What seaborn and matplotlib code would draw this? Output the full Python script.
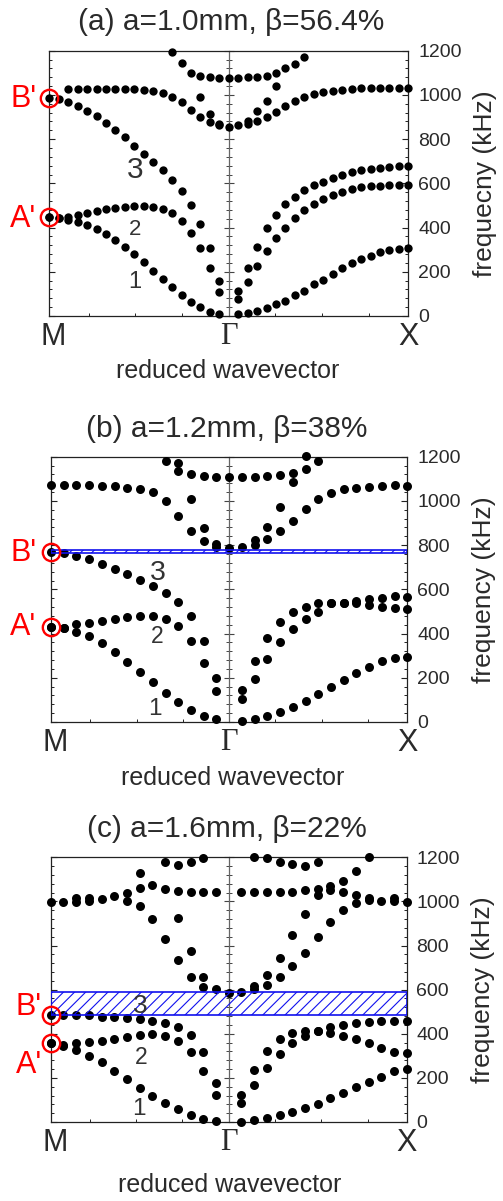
import numpy as np
import pandas as pd
import matplotlib
matplotlib.use("Agg")
import matplotlib.pyplot as plt
import matplotlib.transforms as mtransforms
from matplotlib.ticker import MultipleLocator, FixedLocator
import seaborn as sns

sns.set_style("ticks")
plt.rcParams['font.family'] = ['Liberation Sans', 'DejaVu Sans']
plt.rcParams['hatch.linewidth'] = 0.8

# ---------------- data ----------------
# k index along the path M -> Gamma -> X (Gamma at k = steps, X at k = 2*steps)
xtick_labels = ['M', 'Γ', 'X']
ytick_values = [0, 200, 400, 600, 800, 1000, 1200]

# Panel (a)
a_title = '(a) a=1.0mm, β=56.4%'
a_ylabel = 'frequecny (kHz)'
a_steps = 19
a_b1_k = list(range(0, 19)) + list(range(20, 39))
a_b1_f = [448, 445, 436, 426, 412, 395, 370, 345, 312, 280, 244, 205, 167, 133, 95, 65, 39, 20, 8,
          8, 15, 24, 35, 53, 68, 95, 115, 143, 163, 188, 216, 238, 258, 273, 288, 300, 303, 306]
a_b2_k = list(range(0, 19)) + list(range(20, 39))
a_b2_f = [448, 445, 449, 457, 464, 473, 482, 488, 494, 499, 499, 494, 484, 467, 431, 374, 306, 216, 110,
          77, 155, 228, 294, 351, 400, 445, 481, 508, 529, 547, 562, 574, 582, 586, 589, 591, 592, 592]
a_b3_k = list(range(0, 19)) + list(range(20, 39))
a_b3_f = [984, 980, 966, 950, 929, 905, 874, 841, 808, 770, 733, 695, 660, 615, 565, 502, 415, 306, 158,
          113, 219, 314, 396, 456, 505, 540, 570, 592, 608, 626, 638, 650, 659, 665, 671, 674, 677, 680]
a_b4_k = list(range(2, 39))
a_b4_f = [1027, 1027, 1027, 1027, 1027, 1027, 1025, 1025, 1021, 1018, 1007, 992, 966, 932, 901, 876, 862, 856,
          862, 870, 882, 901, 924, 950, 972, 992, 1004, 1012, 1018, 1022, 1027, 1030, 1030, 1030, 1030, 1030, 1030]
a_b5_k = [16, 17, 18, 21, 22, 23, 24]
a_b5_f = [992, 912, 868, 884, 925, 972, 1042]
a_b6_k = list(range(13, 28))
a_b6_f = [1195, 1143, 1100, 1087, 1079, 1075, 1075, 1075, 1079, 1081, 1085, 1097, 1123, 1140, 1173]
a_Bp, a_Ap = 984, 448
a_gap = None

# Panel (b)
b_title = '(b) a=1.2mm, β=38%'
b_ylabel = 'frequency (kHz)'
b_steps = 14
b_b1_k = list(range(0, 14)) + list(range(15, 29))
b_b1_f = [431, 424, 409, 389, 359, 318, 273, 228, 179, 130, 89, 54, 27, 12,
          6, 14, 29, 45, 69, 96, 125, 157, 190, 220, 250, 274, 291, 295]
b_b2_k = list(range(0, 14)) + list(range(15, 29))
b_b2_f = [431, 424, 442, 446, 455, 464, 473, 481, 481, 466, 434, 368, 268, 142,
          103, 196, 283, 360, 419, 464, 497, 540, 540, 537, 528, 522, 517, 511]
b_b3_k = list(range(0, 14)) + list(range(15, 29))
b_b3_f = [770, 763, 751, 736, 715, 693, 668, 642, 615, 582, 541, 479, 368, 200,
          145, 276, 378, 454, 497, 522, 537, 540, 540, 549, 556, 562, 570, 567]
b_b4_k = list(range(0, 29))
b_b4_f = [1072, 1072, 1072, 1072, 1067, 1067, 1060, 1052, 1040, 999, 933, 864, 819, 793, 785,
          793, 800, 826, 864, 910, 963, 1007, 1037, 1052, 1060, 1064, 1067, 1070, 1067]
b_b5_k = [11, 12, 13, 16, 17, 18, 19]
b_b5_f = [1007, 876, 803, 823, 883, 974, 1085]
b_b6_k = list(range(9, 22))
b_b6_f = [1182, 1137, 1120, 1112, 1109, 1106, 1109, 1109, 1112, 1118, 1128, 1144, 1180]
b_b7_k = [10, 20]
b_b7_f = [1173, 1204]
b_Bp, b_Ap = 770, 431
b_gap = (765, 780)

# Panel (c)
c_title = '(c) a=1.6mm, β=22%'
c_ylabel = 'frequency (kHz)'
c_steps = 14
c_b1_k = list(range(0, 14)) + list(range(15, 29))
c_b1_f = [357, 345, 326, 301, 271, 233, 193, 156, 118, 85, 57, 32, 15, 6,
          2, 9, 20, 30, 44, 62, 82, 107, 130, 157, 183, 206, 230, 240]
c_b2_k = list(range(0, 14)) + list(range(15, 29))
c_b2_f = [357, 350, 357, 361, 369, 376, 387, 394, 397, 391, 367, 316, 233, 122,
          85, 168, 243, 308, 357, 390, 413, 402, 390, 375, 357, 337, 319, 311]
c_b3_k = list(range(0, 14)) + list(range(15, 29))
c_b3_f = [485, 485, 483, 483, 478, 474, 470, 465, 459, 450, 432, 394, 316, 175,
          122, 236, 323, 376, 402, 413, 413, 432, 440, 450, 453, 458, 458, 459]
c_upM_k = [0, 1, 2, 2, 3, 3, 4, 5, 6, 6, 7, 7, 7, 8, 8, 9, 9, 9, 10, 10, 10, 10,
           11, 11, 11, 11, 12, 12, 12, 12, 13, 13, 14]
c_upM_f = [999, 999, 1017, 998, 1017, 1000, 1011, 1025, 1040, 1003, 1127, 1059, 981, 1074, 919,
           1180, 1055, 828, 1165, 1047, 926, 733, 1180, 1044, 777, 659, 1197, 1044, 659, 612,
           1041, 601, 587]
c_upX_k = [15, 15, 16, 16, 16, 16, 17, 17, 17, 17, 18, 18, 18, 18, 19, 19, 19, 19,
           20, 20, 20, 20, 21, 21, 21, 21, 22, 22, 22, 23, 23, 23, 24, 24, 24, 25, 25, 25,
           26, 27, 27, 28]
c_upX_f = [1044, 591, 1203, 1044, 617, 604, 1195, 1044, 666, 623, 1180, 1044, 745, 659,
           1169, 1044, 846, 707, 1160, 1050, 945, 768, 1180, 1057, 1027, 837,
           1068, 1053, 905, 1092, 1041, 961, 1139, 1029, 992, 1200, 1016, 1006,
           1004, 1015, 1000, 997]
c_Bp, c_Ap = 485, 357
c_gap = (487, 588)

panels = [
    dict(title=a_title, ylabel=a_ylabel, steps=a_steps,
         bands=[(a_b1_k, a_b1_f), (a_b2_k, a_b2_f), (a_b3_k, a_b3_f), (a_b4_k, a_b4_f),
                (a_b5_k, a_b5_f), (a_b6_k, a_b6_f)],
         Bp=a_Bp, Ap=a_Ap, gap=a_gap, s=36,
         rect_px=(49.3, 50.7, 408.3, 316.0),
         title_px=(231.5, 30.0), xlabel_px=(227.5, 370.7),
         Blab=(-0.141, 945), Alab=(-0.144, 403),
         nums=[('3', 0.477, 623, 21.5), ('2', 0.477, 366, 16), ('1', 0.477, 125, 17)]),
    dict(title=b_title, ylabel=b_ylabel, steps=b_steps,
         bands=[(b_b1_k, b_b1_f), (b_b2_k, b_b2_f), (b_b3_k, b_b3_f), (b_b4_k, b_b4_f),
                (b_b5_k, b_b5_f), (b_b6_k, b_b6_f), (b_b7_k, b_b7_f)],
         Bp=b_Bp, Ap=b_Ap, gap=b_gap, s=42,
         rect_px=(51.0, 456.7, 407.3, 722.0),
         title_px=(226.7, 436.7), xlabel_px=(233.0, 778.0),
         Blab=(-0.156, 730), Alab=(-0.156, 394),
         nums=[('3', 0.597, 642, 20.5), ('2', 0.597, 356, 16.5), ('1', 0.584, 32, 17.5)]),
    dict(title=c_title, ylabel=c_ylabel, steps=c_steps,
         bands=[(c_b1_k, c_b1_f), (c_b2_k, c_b2_f), (c_b3_k, c_b3_f),
                (c_upM_k, c_upM_f), (c_upX_k, c_upX_f)],
         Bp=c_Bp, Ap=c_Ap, gap=c_gap, s=42,
         rect_px=(50.7, 857.3, 406.7, 1122.0),
         title_px=(226.7, 837.0), xlabel_px=(230.0, 1185.0),
         Blab=(-0.124, 485), Alab=(-0.124, 222),
         nums=[('3', 0.506, 493, 19), ('2', 0.506, 262, 16.5), ('1', 0.498, 32, 17.5)]),
]

W, H = 503, 1201
fig = plt.figure(figsize=(W / 100, H / 100), dpi=100)
TXT = '#2a2a2a'

for p in panels:
    l, t, r, b = p['rect_px']
    ax = fig.add_axes([l / W, 1 - b / H, (r - l) / W, (b - t) / H])

    # Gamma line with crossing ticks (twin axes, created first so ax settings win)
    ax2 = ax.twinx()
    ax2.set_ylim(0, 1200)
    for name in ['top', 'bottom', 'right']:
        ax2.spines[name].set_visible(False)
    ax2.spines['left'].set_position(('axes', 0.5))
    ax2.spines['left'].set_color('#666666')
    ax2.spines['left'].set_linewidth(0.9)
    ax2.yaxis.set_ticks_position('left')
    ax2.yaxis.set_major_locator(FixedLocator(ytick_values))
    ax2.yaxis.set_minor_locator(MultipleLocator(40))
    ax2.tick_params(axis='y', which='both', direction='inout', labelleft=False,
                    labelright=False, colors='#444444')
    ax2.tick_params(axis='y', which='major', length=7, width=0.8)
    ax2.tick_params(axis='y', which='minor', length=4, width=0.7)
    ax2.set_zorder(ax.get_zorder() - 1)
    ax.patch.set_visible(False)

    rows = []
    for k_list, f_list in p['bands']:
        for k, f in zip(k_list, f_list):
            rows.append((k / p['steps'], f))
    df = pd.DataFrame(rows, columns=['x', 'f'])
    sns.scatterplot(data=df, x='x', y='f', ax=ax, color='black', s=p['s'],
                    linewidth=0, legend=False, clip_on=False, zorder=3)

    if p['gap'] is not None:
        lo, hi = p['gap']
        ax.axhspan(lo, hi, xmin=0, xmax=1, facecolor='none', edgecolor='#1010ee',
                   hatch='///', linewidth=1.2, zorder=4)

    # red circles at M
    ax.plot([0, 0], [p['Bp'], p['Ap']], linestyle='none', marker='o', markersize=12.5,
            markerfacecolor='none', markeredgecolor='red', markeredgewidth=1.7,
            clip_on=False, zorder=5)
    ax.text(p['Blab'][0], p['Blab'][1], "B'", color='red', fontsize=22,
            ha='center', va='baseline', clip_on=False)
    ax.text(p['Alab'][0], p['Alab'][1], "A'", color='red', fontsize=22,
            ha='center', va='baseline', clip_on=False)

    for txt, x, y, fs in p['nums']:
        ax.text(x, y, txt, color='#333333', fontsize=fs, ha='center', va='baseline', zorder=6)

    ax.set_xlim(0, 2)
    ax.set_ylim(0, 1200)

    # y axis: ticks both sides, labels right
    ax.yaxis.set_major_locator(FixedLocator(ytick_values))
    ax.yaxis.set_minor_locator(MultipleLocator(40))
    ax.yaxis.set_ticks_position('both')
    ax.tick_params(axis='y', which='both', direction='in', left=True, right=True,
                   labelleft=False, labelright=True, colors='#222222', labelcolor=TXT)
    ax.tick_params(axis='y', which='major', length=4.5, width=0.8, labelsize=14, pad=7)
    ax.tick_params(axis='y', which='minor', length=2.2, width=0.7)
    ax.yaxis.set_label_position('right')
    ax.set_ylabel(p['ylabel'], fontsize=19, color=TXT, labelpad=8)

    # x axis
    ax.set_xticks([0, 1, 2])
    ax.set_xticklabels(xtick_labels)
    ax.xaxis.set_minor_locator(FixedLocator([0.22, 0.48, 0.74, 1.26, 1.52, 1.78]))
    ax.tick_params(axis='x', which='major', length=0, labelsize=22, pad=4, labelcolor=TXT)
    ax.tick_params(axis='x', which='minor', direction='in', length=2.5, width=0.7,
                   bottom=True, top=False, colors='#222222')
    labs = ax.get_xticklabels()
    labs[1].set_fontfamily('Liberation Serif')
    off = mtransforms.ScaledTranslation(4 / 100, 0, fig.dpi_scale_trans)
    labs[0].set_transform(labs[0].get_transform() + off)
    ax.set_xlabel('')

    for sp in ax.spines.values():
        sp.set_color('#222222')
        sp.set_linewidth(0.9)

    fig.text(p['title_px'][0] / W, 1 - p['title_px'][1] / H, p['title'], fontsize=21.5,
             color=TXT, ha='center', va='baseline')
    fig.text(p['xlabel_px'][0] / W, 1 - p['xlabel_px'][1] / H, 'reduced wavevector',
             fontsize=18, color=TXT, ha='center', va='center')

fig.savefig('out.png', dpi=100, facecolor='white')
